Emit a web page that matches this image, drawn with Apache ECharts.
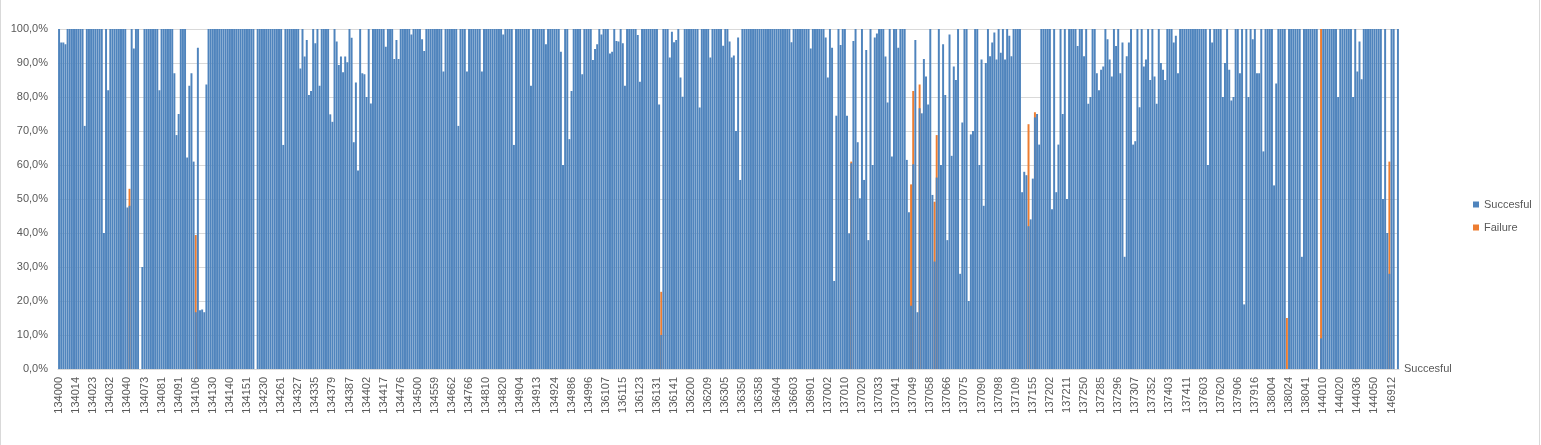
<!DOCTYPE html>
<html>
<head>
<meta charset="utf-8">
<script src="https://cdn.jsdelivr.net/npm/echarts@6/dist/echarts.min.js"></script>
<style>
html,body{margin:0;padding:0;background:#fff;}
#c{width:1541px;height:445px;}
</style>
</head>
<body>
<div id="c"></div>
<script>
// Tick labels shown on the category axis (every 8th category is labelled)
var tickLabels = ['134000','134014','134023','134032','134040','134073','134081','134091','134106','134130',
'134140','134151','134230','134261','134327','134335','134379','134387','134402','134417',
'134476','134500','134559','134662','134766','134810','134820','134904','134913','134924',
'134986','134996','136107','136115','136123','136131','136141','136200','136209','136305',
'136350','136358','136404','136603','136901','137002','137010','137020','137033','137041',
'137049','137058','137066','137075','137090','137098','137109','137155','137202','137211',
'137250','137285','137296','137307','137352','137403','137411','137603','137620','137906',
'137916','138004','138024','138041','144010','144020','144036','144050','146912'];

// Succesful share (%) per category
var succesful = [
100,96,96,95.5,100,100,100,100,
100,100,100,100,71.5,100,100,100,
100,100,100,100,100,40,100,82,
100,100,100,100,100,100,100,100,
47.5,48,100,94.3,100,100,0,30,
100,100,100,100,100,100,100,82,
100,100,100,100,100,100,87,68.8,
75,100,100,100,62.2,83.3,87,61,
16.7,94.5,17.3,17.5,16.7,83.7,100,100,
100,100,100,100,100,100,100,100,
100,100,100,100,100,100,100,100,
100,100,100,100,0,100,100,100,
100,100,100,100,100,100,100,100,
100,65.9,100,100,100,100,100,100,
100,88.4,100,91.9,96.8,80.6,81.8,100,
95.8,100,83.3,100,100,100,100,74.9,
72.7,100,96.3,89.4,91.9,87.3,91.9,90.2,
100,97.4,66.7,84.3,58.4,100,87,86.7,
80,100,78.1,100,100,100,100,100,
100,94.8,100,100,100,91.2,96.8,91.2,
100,100,100,100,100,98.4,100,100,
100,100,97,93.5,100,100,100,100,
100,100,100,100,87.5,100,100,100,
100,100,100,71.5,100,100,100,87.5,
100,100,100,100,100,100,87.5,100,
100,100,100,100,100,100,100,100,
98.4,100,100,100,100,65.9,100,100,
100,100,100,100,100,83.3,100,100,
100,100,100,100,95.5,100,100,100,
100,100,100,93.3,60,100,100,67.6,
81.8,100,100,100,100,86.7,100,100,
100,100,90.9,94.1,95.5,100,98.4,100,
100,100,92.8,93.3,100,96.5,96.3,100,
95.8,83.3,100,100,100,100,100,98.2,
84.5,100,100,100,100,100,100,100,
100,77.8,10,100,100,100,91.6,99.2,
96.1,96.8,100,85.7,80.1,100,100,100,
100,100,100,100,76.9,100,100,100,
100,91.6,100,100,100,100,100,95.1,
100,100,96.3,91.6,92.2,70,97.5,55.6,
100,100,100,100,100,100,100,100,
100,100,100,100,100,100,100,100,
100,100,100,100,100,100,100,96.1,
100,100,100,100,100,100,100,100,
94.3,100,100,100,100,100,100,97.5,
85.7,100,94.5,25.9,74.5,100,95.3,100,
100,74.5,39.9,60.5,96.5,100,66.7,50.2,
100,55.6,93.8,37.9,100,60,97.5,98.7,
100,100,100,91.9,78.4,100,62.5,100,
100,94.5,100,100,100,61.5,46.1,18.6,
60.2,96.8,16.7,76.7,75.2,91.2,86,77.8,
100,51.2,31.6,56.3,100,60,95.5,80.6,
37.9,98.4,62.7,89,85,100,28,72.5,
100,100,20,69,70,100,100,60,
91,48,90,100,92,96,99,91,
100,93,100,91,100,98,92,100,
100,100,100,52,58,57,42,44,
56,74,75,66,100,100,100,100,
100,47,100,52,66,100,75,100,
50,100,100,100,100,95,100,100,
92,100,78,80,100,100,87,82,
88,89,100,97,91,86,100,95,
100,87,96,33,92,96,100,66,
67,100,77,100,89,91,100,85,
100,86,78,100,90,88,85,100,
100,100,96,98,87,100,100,100,
100,100,100,100,100,100,100,100,
100,100,60,100,96,100,100,100,
100,80,90,100,88,79,80,100,
100,87,100,19,100,80,100,97,
100,87,87,100,64,100,100,100,
100,54,84,100,100,100,100,0,
100,100,100,100,100,100,33,100,
100,100,100,100,100,100,0,9,
100,100,100,100,100,100,100,80,
100,100,100,100,100,100,80,100,
87.5,96.3,85.2,100,100,100,100,100,
100,100,100,100,50,100,40,28,
100,100,0,100
];

// Failure share (%) where it shows behind the Succesful columns: [category index, value]
var failure = [
[33,53],[64,39.4],[282,22.7],[371,61],[399,54.3],[400,81.8],[403,83.7],
[410,49.2],[411,68.8],[454,72],[457,75.5],[575,15],[591,100],[623,61]
];

var categories = [];
tickLabels.forEach(function (t) {
  categories.push(t);
  for (var j = 0; j < 7 && categories.length < succesful.length; j++) categories.push('');
});

var chart = echarts.init(document.getElementById('c'));
var txt = '#595959';
chart.setOption({
  animation: false,
  backgroundColor: '#ffffff',
  textStyle: {fontFamily: 'Liberation Sans'},
  grid: {left: 58, right: 142, top: 29, bottom: 76},
  legend: {
    orient: 'vertical', left: 1468, top: 194,
    itemWidth: 6, itemHeight: 6, itemGap: 12, icon: 'rect',
    textStyle: {color: txt, fontSize: 11, fontFamily: 'Liberation Sans'},
    data: ['Succesful', 'Failure']
  },
  xAxis: {
    type: 'category', data: categories,
    axisLine: {lineStyle: {color: '#d9d9d9'}},
    axisTick: {show: false},
    axisLabel: {interval: 7, rotate: 90, color: txt, fontSize: 11, margin: 8, fontFamily: 'Liberation Sans'}
  },
  yAxis: {
    type: 'value', min: 0, max: 100, interval: 10,
    axisLine: {show: false}, axisTick: {show: false},
    splitLine: {lineStyle: {color: '#d9d9d9'}},
    axisLabel: {color: txt, fontSize: 11, margin: 10, fontFamily: 'Liberation Sans',
      formatter: function (v) { return v.toFixed(1).replace('.', ',') + '%'; }}
  },
  series: [
    {name: 'Succesful', type: 'bar', data: succesful, z: 3,
     barGap: '-100%', barCategoryGap: '8%',
     itemStyle: {color: '#4f84bd'}},
    {name: 'Failure', type: 'bar', data: failure, z: 2,
     itemStyle: {color: '#ed7d31'}}
  ],
  graphic: [
    {type: 'text', left: 1404, top: 363, style: {text: 'Succesful', fill: txt, font: '11px "Liberation Sans"'}},
    {type: 'line', shape: {x1: 0.5, y1: 0, x2: 0.5, y2: 445}, style: {stroke: '#d9d9d9', lineWidth: 1}},
    {type: 'line', shape: {x1: 1539.5, y1: 0, x2: 1539.5, y2: 445}, style: {stroke: '#d9d9d9', lineWidth: 1}}
  ]
});
</script>
</body>
</html>
